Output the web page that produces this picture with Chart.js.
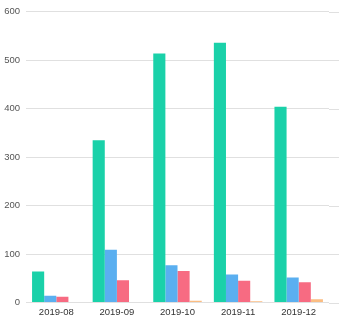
<!DOCTYPE html>
<html>
<head>
<meta charset="utf-8">
<script src="https://cdn.jsdelivr.net/npm/chart.js@4/dist/chart.umd.min.js"></script>
<style>
  html, body { margin: 0; padding: 0; background: #fff; }
  #wrap { width: 339px; height: 326px; }
</style>
</head>
<body>
<div id="wrap"><canvas id="c" width="339" height="326"></canvas></div>
<script>
const categories = ['2019-08', '2019-09', '2019-10', '2019-11', '2019-12'];
const seriesGreen = [64, 335, 514, 536, 404];
const seriesBlue = [14, 109, 77, 58, 52];
const seriesRed = [12, 46, 65, 45, 42];
const seriesOrange = [0, 1, 4, 3, 7];
const yTicks = [0, 100, 200, 300, 400, 500, 600];

const FONT = '"Liberation Sans", Arial, sans-serif';

const extendGrid = {
  id: 'extendGrid',
  beforeDatasetsDraw(chart) {
    const ctx = chart.ctx, y = chart.scales.y, a = chart.chartArea;
    ctx.save();
    ctx.strokeStyle = '#e0e0e0';
    ctx.lineWidth = 1;
    yTicks.forEach(v => {
      const py = Math.round(y.getPixelForValue(v)) + 0.5;
      ctx.beginPath();
      ctx.moveTo(a.right, py);
      ctx.lineTo(chart.width, py);
      ctx.stroke();
    });
    ctx.restore();
  }
};

new Chart(document.getElementById('c'), {
  type: 'bar',
  data: {
    labels: categories,
    datasets: [
      { data: seriesGreen, backgroundColor: '#1ad1a9' },
      { data: seriesBlue, backgroundColor: '#5aaff0' },
      { data: seriesRed, backgroundColor: '#f76b82' },
      { data: seriesOrange, backgroundColor: '#fbbd82' }
    ]
  },
  options: {
    responsive: false,
    animation: false,
    layout: { padding: { top: 6, right: 10, bottom: 4, left: 4 } },
    plugins: { legend: { display: false }, tooltip: { enabled: false } },
    datasets: { bar: { categoryPercentage: 0.8, barPercentage: 1.0 } },
    scales: {
      x: {
        grid: { display: false, drawTicks: false },
        border: { display: false },
        ticks: { color: '#333', font: { family: FONT, size: 9.5 }, padding: 4, maxRotation: 0 }
      },
      y: {
        min: 0, max: 600,
        afterBuildTicks(scale) { scale.ticks = yTicks.map(v => ({ value: v })); },
        afterFit(scale) { scale.width = 22; },
        grid: { color: '#e0e0e0', drawTicks: false },
        border: { display: false },
        ticks: { color: '#555', font: { family: FONT, size: 9.5 }, padding: 6 }
      }
    }
  },
  plugins: [extendGrid]
});
</script>
</body>
</html>
